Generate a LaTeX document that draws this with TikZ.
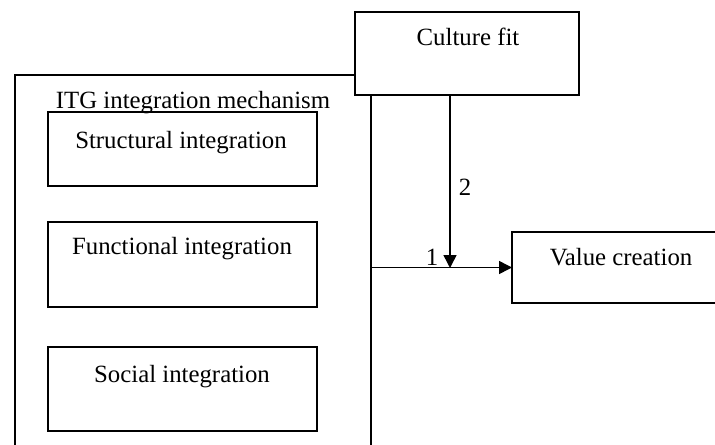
\documentclass[tikz,border=0pt]{standalone}
\usepackage{fontspec}
\setmainfont{Liberation Serif}
\usetikzlibrary{arrows.meta}
\begin{document}
\begin{tikzpicture}[x=0.5pt,y=-0.5pt,
  box/.style={draw,line width=0.75pt,fill=white,inner sep=0pt,outer sep=0pt},
  lbl/.style={anchor=base,inner sep=0pt,font=\fontsize{12.4}{14}\selectfont},
  arr/.style={line width=0.75pt,-{Triangle[length=6.5pt,width=6.5pt]}},
  ln/.style={line width=0.75pt}]
\useasboundingbox (0,0) rectangle (715,444);
\clip (0,0) rectangle (715,444);
% outer box
\node[box,fill=none,minimum width=356*0.5pt,minimum height=420*0.5pt,anchor=north west] (itg) at (15,75) {};
% culture fit
\node[box,minimum width=224*0.5pt,minimum height=83*0.5pt,anchor=north west] (cf) at (355,12) {};
% inner boxes
\node[box,minimum width=269*0.5pt,minimum height=74*0.5pt,anchor=north west] (si) at (48,112) {};
\node[box,minimum width=269*0.5pt,minimum height=85*0.5pt,anchor=north west] (fi) at (48,222) {};
\node[box,minimum width=269*0.5pt,minimum height=84*0.5pt,anchor=north west] (soc) at (48,347) {};
% value creation
\node[box,minimum width=230*0.5pt,minimum height=71*0.5pt,anchor=north west] (vc) at (512,232) {};
% labels
\node[lbl] (tcf) at (468,46) {Culture fit};
\node[lbl] (titg) at (193,108) {ITG integration mechanism};
\node[lbl] (tsi) at (181,148) {Structural integration};
\node[lbl] (tfi) at (182,254) {Functional integration};
\node[lbl] (tsoc) at (182,382) {Social integration};
\node[lbl] (tvc) at (621,265) {Value creation};
\node[lbl] (one) at (432,265) {1};
\node[lbl] (two) at (465,195) {2};
% connectors
\coordinate (p) at (450,268);
\draw[arr] (itg.east |- vc.west) -- (vc.west);
\draw[arr] (cf.south -| p) -- (p);
\end{tikzpicture}
\end{document}
